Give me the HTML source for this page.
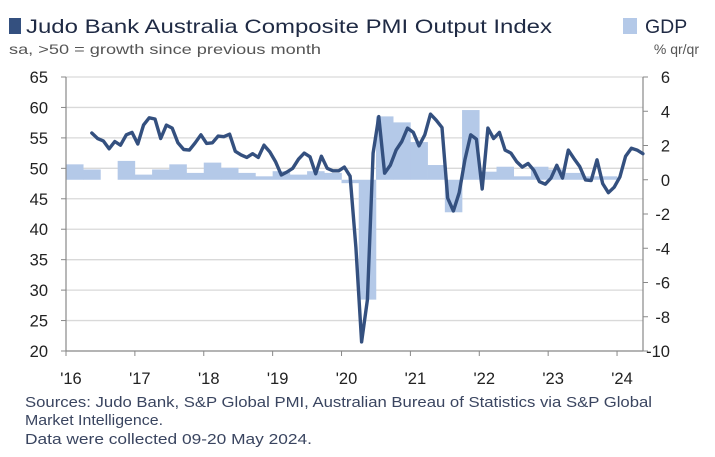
<!DOCTYPE html>
<html><head><meta charset="utf-8"><style>
html,body{margin:0;padding:0;background:#fff;}
svg{display:block;font-family:"Liberation Sans",sans-serif;}
</style></head><body>
<svg id="chart" width="715" height="457" viewBox="0 0 715 457">
<g>
<rect x="9" y="18" width="12" height="16" fill="#34507f"/>
<text x="26" y="33" font-size="19.5" fill="#1f2a44" textLength="526" lengthAdjust="spacingAndGlyphs">Judo Bank Australia Composite PMI Output Index</text>
</g>
<text x="9" y="54" font-size="14" fill="#555" textLength="312" lengthAdjust="spacingAndGlyphs">sa, &gt;50 = growth since previous month</text>
<g>
<rect x="623" y="18" width="14" height="16" fill="#b4c9e8"/>
<text x="645" y="33" font-size="19.5" fill="#1f2a44">GDP</text>
</g>
<text x="699" y="54" font-size="14" fill="#555" text-anchor="end">% qr/qr</text>
<g id="grid"></g><g id="bars"></g><g id="axes"></g><g id="line"></g>
<g font-size="15" fill="#3a4560">
<text x="25" y="407" textLength="627" lengthAdjust="spacingAndGlyphs">Sources: Judo Bank, S&amp;P Global PMI, Australian Bureau of Statistics via S&amp;P Global</text>
<text x="25" y="425" textLength="138" lengthAdjust="spacingAndGlyphs">Market Intelligence.</text>
<text x="25" y="444" textLength="287" lengthAdjust="spacingAndGlyphs">Data were collected 09-20 May 2024.</text>
</g>
</svg>
<script>
const years = ["'16","'17","'18","'19","'20","'21","'22","'23","'24"];
const leftTicks = [20,25,30,35,40,45,50,55,60,65];
const rightTicks = [-10,-8,-6,-4,-2,0,2,4,6];
const pmiStartMonth = 4;
const pmi = [55.8,54.9,54.5,53.2,54.4,53.8,55.5,55.9,54.0,57.1,58.3,58.1,54.9,57.1,56.6,54.2,53.1,53.0,54.2,55.5,54.1,54.2,55.3,55.2,55.6,52.8,52.2,51.8,52.4,51.8,53.8,52.7,51.1,48.9,49.4,50.0,51.5,52.5,51.9,49.1,52.0,50.0,49.6,49.6,
50.2,48.7,37.0,21.5,28.4,52.5,58.5,49.2,50.5,53.0,54.4,56.6,55.9,53.7,55.5,58.9,57.9,56.7,45.1,43.0,46.0,51.4,55.5,54.8,46.6,56.6,54.9,55.9,53.0,52.5,51.1,50.2,50.8,49.7,47.8,47.4,48.4,50.5,48.4,53.0,51.6,50.3,48.1,48.0,51.4,47.5,46.0,46.9,48.6,52.0,53.3,53.0,52.4];
const gdp = [0.9,0.6,0.0,1.1,0.3,0.6,0.9,0.4,1.0,0.7,0.4,0.2,0.5,0.3,0.5,0.4,-0.2,-7.0,3.7,3.35,2.2,0.86,-1.9,4.07,0.47,0.76,0.2,0.76,0.6,0.4,0.2,0.2];

const NS="http://www.w3.org/2000/svg";
const X0=66,X1=643,Y0=77,Y1=351,MW=5.74;
const yL=v=>Y0+(65-v)*(Y1-Y0)/45;
const yR=v=>Y0+(6-v)*(Y1-Y0)/16;
const xM=m=>X0+m*MW;
function mk(tag,parent,attrs){const e=document.createElementNS(NS,tag);for(const k in attrs)e.setAttribute(k,attrs[k]);parent.appendChild(e);return e;}
const grid=document.getElementById('grid'),bars=document.getElementById('bars'),axes=document.getElementById('axes'),line=document.getElementById('line');
leftTicks.forEach(v=>{
 const y=yL(v);
 if(v>20){const g=mk('line',grid,{x1:X0,x2:X1,y1:y,y2:y,stroke:'#d9d9d9','stroke-width':1.3});
 
 }
 const t=mk('line',axes,{x1:X0-5,x2:X0,y1:y,y2:y,stroke:'#888'});
 
 
 const l=mk('text',axes,{x:X0-18,y:y+6,'font-size':16.5,'text-anchor':'end',fill:'#222'});
 l.textContent=v;
 
 
});
rightTicks.forEach(v=>{
 const y=yR(v);
 const t=mk('line',axes,{x1:X1,x2:X1+5,y1:y,y2:y,stroke:'#888'});
 
 
 const l=mk('text',axes,{x:670,y:y+6,'font-size':16.5,'text-anchor':'end',fill:'#222'});
 l.textContent=v;
 
 
});
gdp.forEach((v,i)=>{
 const x=xM(i*3),w=3*MW,y0=yR(0),y=yR(v);
 const r=mk('rect',bars,{x:x,y:Math.min(y,y0),width:w+0.3,height:Math.abs(y-y0),fill:'#b4c9e8'});
 
 
});
const ax=[['line',{x1:X0,x2:X0,y1:Y0,y2:Y1}],['line',{x1:X1,x2:X1,y1:Y0,y2:Y1}],['line',{x1:X0,x2:X1,y1:Y1,y2:Y1}]];
ax.forEach(([t,a],i)=>{const e=mk(t,axes,Object.assign({stroke:'#888','stroke-width':1.2},a));
 
 });
years.forEach((s,i)=>{
 const x=xM(i*12);
 const t=mk('line',axes,{x1:x,x2:x,y1:Y1,y2:Y1+5,stroke:'#888'});
 
 
 const l=mk('text',axes,{x:x+5,y:384,'font-size':16.5,'text-anchor':'middle',fill:'#222'});
 l.textContent=s;
 
 
});
const pts=pmi.map((v,i)=>xM(pmiStartMonth+i+0.5).toFixed(1)+','+yL(v).toFixed(1)).join(' ');
const pl=mk('polyline',line,{points:pts,fill:'none',stroke:'#34507f','stroke-width':3.4,'stroke-linejoin':'round','stroke-linecap':'round'});


</script>
</body></html>
